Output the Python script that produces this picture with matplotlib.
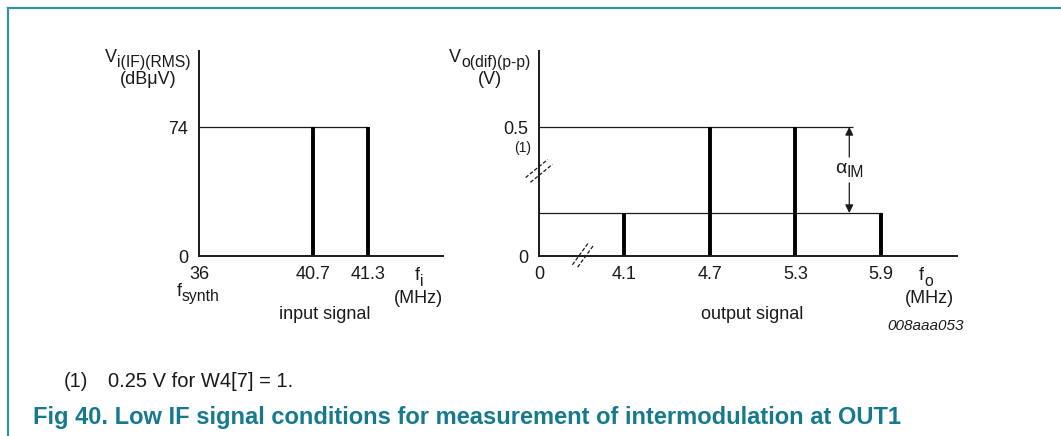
import matplotlib
matplotlib.use("Agg")
import matplotlib.pyplot as plt
from matplotlib.lines import Line2D

plt.rcParams["font.family"] = ["Liberation Sans", "DejaVu Sans"]

# ---- data -------------------------------------------------------------
# input spectrum (two tones at the IF input)
in_freq_labels = ["36", "40.7", "41.3"]
in_tone_labels = ["40.7", "41.3"]
in_level = 74.0                      # dBuV
in_ytick_labels = ["0", "74"]

# output spectrum (two wanted tones plus two intermodulation products)
out_freq_labels = ["0", "4.1", "4.7", "5.3", "5.9"]
out_main_labels = ["4.7", "5.3"]
out_im_labels = ["4.1", "5.9"]
out_main_level = 0.5                 # V (p-p)
out_im_level = 0.5 / 3               # schematic level of IM products
out_ytick_labels = ["0", "0.5"]

# ---- schematic axis positions (frequency axis is not to scale) ---------
in_pos = {"36": 0.0, "40.7": 2.07, "41.3": 3.07}
in_xmax = 4.44
out_pos = {"0": 0.0, "4.1": 1.0, "4.7": 2.0, "5.3": 3.0, "5.9": 4.0}
out_xmax = 4.89

W, H = 1061, 436
fig = plt.figure(figsize=(W / 100, H / 100), dpi=100)
renderer = fig.canvas.get_renderer()

AX_COLOR = "#1a1a1a"
TXT = "#1a1a1a"
FS = 13
SUB_FS = 11.3


def px_rect(x0, y0, x1, y1):
    return [x0 / W, 1 - y1 / H, (x1 - x0) / W, (y1 - y0) / H]


def style_axes(ax):
    for s in ("top", "right"):
        ax.spines[s].set_visible(False)
    for s in ("left", "bottom"):
        ax.spines[s].set_linewidth(1.4)
        ax.spines[s].set_color(AX_COLOR)
    ax.tick_params(length=0, labelsize=FS, colors=TXT)
    ax.patch.set_alpha(0)


# ---- left panel: input signal -----------------------------------------
axl = fig.add_axes(px_rect(199, 51, 443, 256))
style_axes(axl)
axl.set_xlim(0, in_xmax)
axl.set_ylim(0, in_level * 205 / 129)
axl.set_xticks([in_pos[k] for k in in_freq_labels], in_freq_labels)
axl.tick_params(axis="x", pad=7)
axl.set_yticks([0, in_level], in_ytick_labels)
axl.tick_params(axis="y", pad=8)
axl.hlines(in_level, 0, in_pos[in_tone_labels[-1]], color=AX_COLOR, lw=0.9)
axl.vlines([in_pos[k] for k in in_tone_labels], 0, in_level,
           color="black", lw=2.8)

# ---- right panel: output signal ---------------------------------------
axr = fig.add_axes(px_rect(539, 51, 957, 256))
style_axes(axr)
axr.set_xlim(0, out_xmax)
axr.set_ylim(0, out_main_level * 205 / 129)
axr.set_xticks([out_pos[k] for k in out_freq_labels], out_freq_labels)
axr.tick_params(axis="x", pad=7)
axr.set_yticks([0, out_main_level], out_ytick_labels)
axr.tick_params(axis="y", pad=8)
arrow_x = 3.63
axr.hlines(out_main_level, 0, 3.67, color=AX_COLOR, lw=0.9)
axr.hlines(out_im_level, 0, out_pos[out_im_labels[-1]], color=AX_COLOR, lw=0.9)
axr.vlines([out_pos[k] for k in out_main_labels], 0, out_main_level,
           color="black", lw=2.8)
axr.vlines([out_pos[k] for k in out_im_labels], 0, out_im_level,
           color="black", lw=2.8)

# alpha_IM dimension arrow between the two levels, with a gap for the label
mid = (out_main_level + out_im_level) / 2
gap = 0.05
for end, start in ((out_main_level, mid + gap), (out_im_level, mid - gap)):
    axr.annotate("", xy=(arrow_x, end), xytext=(arrow_x, start),
                 arrowprops=dict(arrowstyle="-|>", color=AX_COLOR, lw=0.9,
                                 mutation_scale=12, shrinkA=0, shrinkB=0))


# axis-break marks drawn in pixel space on top of the axes
def break_mark(xc, yc, dx, dy, sep):
    for k in (-1, 1):
        ox, oy = k * sep[0], k * sep[1]
        fig.add_artist(Line2D(
            [(xc - dx + ox) / W, (xc + dx + ox) / W],
            [1 - (yc + dy + oy) / H, 1 - (yc - dy + oy) / H],
            color=AX_COLOR, lw=0.9, ls=(0, (3, 1.5))))


break_mark(539, 171, 11, 9, (2.4, 2.4))
break_mark(583, 255, 8, 11, (2.6, 1.2))

# ---- text annotations ---------------------------------------------------
def ftext(x, y, s, **kw):
    kw.setdefault("fontsize", FS)
    kw.setdefault("color", TXT)
    return fig.text(x / W, 1 - y / H, s, **kw)


def sub_text(xc, y, main, sub, drop=5, fs=FS, sub_fs=SUB_FS):
    """Symbol with a large subscript, centred on xc (pixel coords)."""
    t1 = ftext(0, y, main, ha="left", va="center", fontsize=fs)
    t2 = ftext(0, y + drop, sub, ha="left", va="center", fontsize=sub_fs)
    w1 = t1.get_window_extent(renderer).width
    w2 = t2.get_window_extent(renderer).width
    x0 = xc - (w1 + w2) / 2
    t1.set_x(x0 / W)
    t2.set_x((x0 + w1) / W)


sub_text(148, 57, "V", "i(IF)(RMS)")
ftext(148, 80, "(dBμV)", ha="center", va="center")
sub_text(490, 57, "V", "o(dif)(p-p)")
ftext(490, 80, "(V)", ha="center", va="center")
ftext(531, 148, "(1)", ha="right", va="center", fontsize=10)

sub_text(850, 168, "α", "IM", drop=4, fs=14)

sub_text(198, 292, "f", "synth")
sub_text(419, 276, "f", "i")
ftext(418, 298, "(MHz)", ha="center", va="center")
ftext(325, 314, "input signal", ha="center", va="center")

sub_text(926, 276, "f", "o")
ftext(929, 298, "(MHz)", ha="center", va="center")
ftext(752, 314, "output signal", ha="center", va="center")
ftext(926, 326, "008aaa053", ha="center", va="center", fontsize=11,
      style="italic")

ftext(64, 381, "(1)", ha="left", va="center", fontsize=14.5)
ftext(108, 381, "0.25 V for W4[7] = 1.", ha="left", va="center", fontsize=14.5)
ftext(33, 417, "Fig 40. Low IF signal conditions for measurement of intermodulation at OUT1",
      ha="left", va="center", fontsize=17, fontweight="bold", color="#167a8e")

# frame lines of the figure block
BORDER = "#3a8fa0"
fig.add_artist(Line2D([8 / W, 1], [1 - 8 / H, 1 - 8 / H], color=BORDER, lw=1.6))
fig.add_artist(Line2D([8 / W, 8 / W], [1 - 8 / H, 0], color=BORDER, lw=1.6))

fig.savefig("out.png", dpi=100)
